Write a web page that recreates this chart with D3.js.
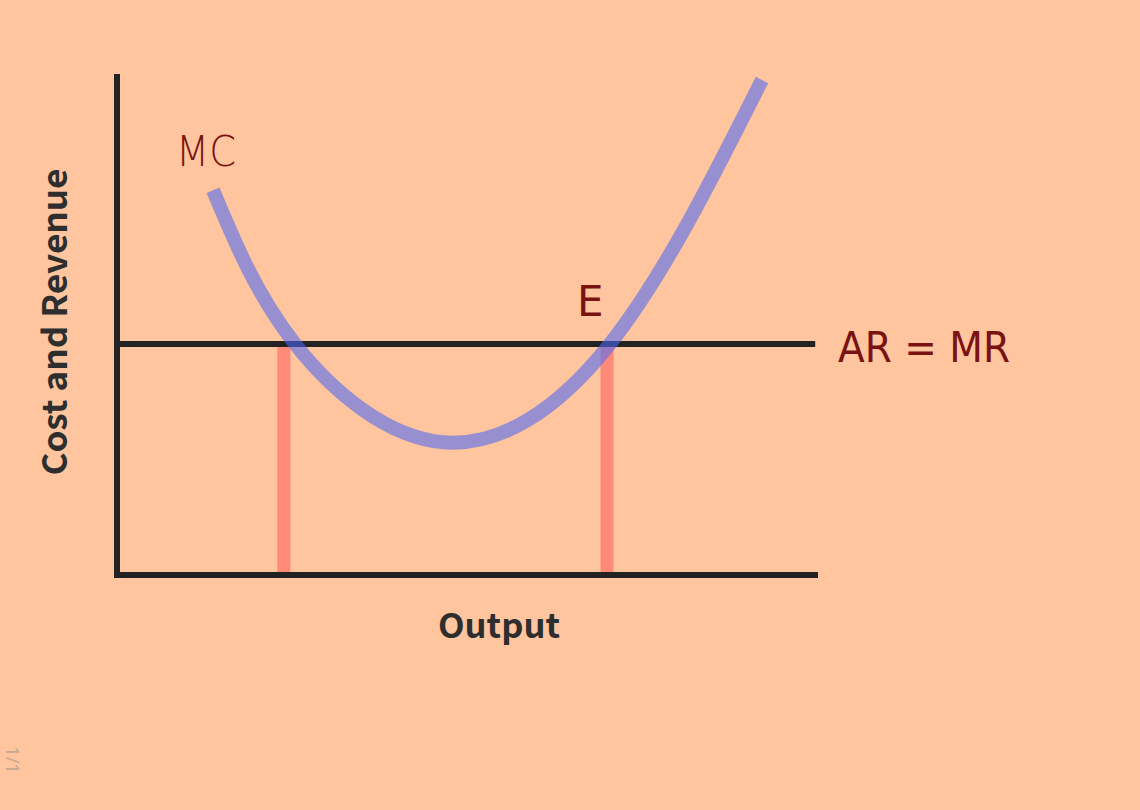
<!DOCTYPE html>
<html>
<head>
<meta charset="utf-8">
<script src="https://cdn.jsdelivr.net/npm/d3@7"></script>
<style>
  html, body { margin: 0; padding: 0; background: #FEC59E; }
  svg { display: block; }
</style>
</head>
<body>
<svg id="chart" width="1140" height="810"></svg>
<script>
// ---- data ----
const mcOutput = [13.7, 25.4, 46.6, 70.3, 92.0];
const mcCost   = [76.8, 46.1, 26.5, 46.1, 98.8];
const arLevel = 46.1;               // AR = MR price line
const arRange = [0, 99.6];
const equilibriumOutputs = [23.8, 69.9];
const labels = { mc: "MC", e: "E", ar: "AR = MR", x: "Output", y: "Cost and Revenue", page: "1/1" };

// ---- layout ----
const svg = d3.select("#chart");
const x = d3.scaleLinear().domain([0, 100]).range([117, 818]);
const y = d3.scaleLinear().domain([0, 100]).range([575, 74]);

const ink = "#222222";
const hand = "#7A1212";
const sans = "'Noto Sans CJK KR', 'Noto Sans', sans-serif";

// red verticals
svg.selectAll("line.eq").data(equilibriumOutputs).enter().append("line")
  .attr("class", "eq")
  .attr("x1", d => x(d)).attr("x2", d => x(d))
  .attr("y1", y(arLevel)).attr("y2", y(0.6))
  .attr("stroke", "#FF8A78").attr("stroke-width", 13);

// AR = MR line
svg.append("line")
  .attr("x1", x(arRange[0])).attr("x2", x(arRange[1]))
  .attr("y1", y(arLevel)).attr("y2", y(arLevel))
  .attr("stroke", ink).attr("stroke-width", 6);

// axes
svg.append("line")
  .attr("x1", x(0)).attr("x2", x(0))
  .attr("y1", y(100)).attr("y2", y(0) + 3)
  .attr("stroke", ink).attr("stroke-width", 6);
svg.append("line")
  .attr("x1", x(0) - 3).attr("x2", x(100))
  .attr("y1", y(0)).attr("y2", y(0))
  .attr("stroke", ink).attr("stroke-width", 6);

// MC curve
const mcData = mcOutput.map((o, i) => ({ o, c: mcCost[i] }));
const line = d3.line().x(d => x(d.o)).y(d => y(d.c)).curve(d3.curveNatural);
svg.append("path")
  .attr("d", line(mcData))
  .attr("fill", "none")
  .attr("stroke", "rgb(78,104,245)")
  .attr("stroke-opacity", 0.58)
  .attr("stroke-width", 14)
  .attr("stroke-linecap", "butt");

// axis titles
svg.append("text")
  .attr("x", 499).attr("y", 638)
  .attr("text-anchor", "middle")
  .attr("font-family", sans)
  .attr("font-weight", 600)
  .attr("font-size", 34)
  .attr("fill", "#2e2e2e")
  .attr("textLength", 122).attr("lengthAdjust", "spacingAndGlyphs")
  .text(labels.x);

svg.append("text")
  .attr("transform", "translate(67,322) rotate(-90)")
  .attr("text-anchor", "middle")
  .attr("font-family", sans)
  .attr("font-weight", 600)
  .attr("font-size", 34)
  .attr("fill", "#2e2e2e")
  .attr("textLength", 307).attr("lengthAdjust", "spacingAndGlyphs")
  .text(labels.y);

// handwritten-style labels
const handFont = "'DejaVu Sans', sans-serif";
svg.append("text")
  .attr("x", 176).attr("y", 166)
  .attr("font-family", handFont).attr("font-size", 42)
  .attr("font-weight", 300)
  .attr("fill", hand)
  .attr("textLength", 60).attr("lengthAdjust", "spacingAndGlyphs")
  .text(labels.mc);

svg.append("text")
  .attr("x", 577).attr("y", 316)
  .attr("font-family", handFont).attr("font-size", 42)
  .attr("fill", hand)
  .text(labels.e);

svg.append("text")
  .attr("x", 838).attr("y", 362)
  .attr("font-family", handFont).attr("font-size", 42)
  .attr("fill", hand)
  .attr("textLength", 172).attr("lengthAdjust", "spacingAndGlyphs")
  .text(labels.ar);

// page marker
svg.append("text")
  .attr("transform", "translate(6,760) rotate(90)")
  .attr("text-anchor", "middle")
  .attr("font-family", "'Noto Sans', sans-serif")
  .attr("font-size", 18)
  .attr("fill", "#c4a890")
  .text(labels.page);
</script>
</body>
</html>
